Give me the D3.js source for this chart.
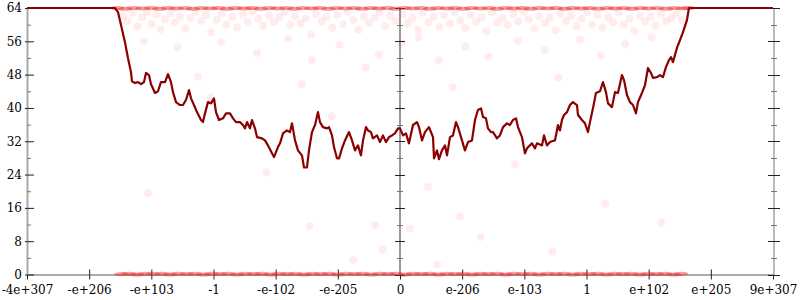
<!DOCTYPE html>
<html lang="en">
    <head>
        <meta charset="UTF-8">
        <title>Float bits</title>
        <style>
            body { margin: 0; padding: 0; background: #fff; }
        </style>
    </head>
    <body>
        <div id="chart"></div>
        <script src="https://d3js.org/d3.v7.min.js"></script>
        <script>
            // x positions are in tick units (0 = first label, 12 = last label)
            const xLabels = ['-4e+307', '-e+206', '-e+103', '-1', '-e-102', '-e-205', '0',
                'e-206', 'e-103', '1', 'e+102', 'e+205', '9e+307'];
            const yTicks = [0, 4, 8, 12, 16, 20, 24, 28, 32, 36, 40, 44, 48, 52, 56, 60, 64];

            const linePoints = [[0,64],[1.415,64],[1.464,63.0],[1.512,59.9],[1.576,55.8],[1.624,52.0],[1.673,48.6],[1.689,46.4],
                [1.737,46.0],[1.785,46.2],[1.834,45.7],[1.882,46.2],[1.914,48.4],[1.962,47.9],[1.995,45.7],[2.059,43.6],
                [2.107,44.0],[2.155,46.2],[2.220,46.2],[2.268,48.1],[2.316,46.2],[2.348,43.8],[2.397,41.4],[2.461,40.7],
                [2.509,40.7],[2.557,41.9],[2.606,44.3],[2.638,42.3],[2.686,40.7],[2.734,39.0],[2.799,37.1],[2.831,36.6],
                [2.863,38.7],[2.911,41.4],[2.960,41.1],[3.008,42.3],[3.040,39.0],[3.088,37.1],[3.153,37.5],[3.201,38.7],
                [3.265,38.7],[3.314,37.5],[3.362,36.6],[3.426,36.6],[3.474,35.9],[3.507,35.1],[3.539,36.6],[3.587,35.1],
                [3.619,37.1],[3.667,35.1],[3.700,33.0],[3.780,32.7],[3.828,32.2],[3.876,31.0],[3.941,29.1],[3.973,28.2],
                [4.037,30.6],[4.070,31.5],[4.118,33.9],[4.182,34.6],[4.230,34.2],[4.263,36.3],[4.311,32.2],[4.359,29.8],
                [4.423,28.6],[4.456,25.7],[4.504,25.7],[4.536,29.8],[4.584,34.2],[4.633,35.9],[4.681,39.0],[4.713,36.6],
                [4.761,35.4],[4.826,35.1],[4.858,35.4],[4.906,33.4],[4.938,30.6],[4.986,27.9],[5.019,27.9],[5.067,30.3],
                [5.115,32.2],[5.179,34.2],[5.228,32.2],[5.276,29.8],[5.324,31.0],[5.372,28.6],[5.405,32.2],[5.453,35.4],
                [5.485,34.6],[5.533,34.2],[5.565,32.7],[5.630,33.4],[5.678,31.8],[5.726,33.4],[5.774,31.8],[5.823,33.0],
                [5.871,33.4],[5.919,33.9],[5.968,35.1],[6.000,35.1],[6.048,33.4],[6.096,33.9],[6.144,31.5],[6.209,35.9],
                [6.273,36.6],[6.305,35.4],[6.354,32.2],[6.402,34.2],[6.466,35.4],[6.531,33.0],[6.547,27.9],[6.595,29.8],
                [6.627,27.7],[6.675,29.8],[6.724,31.0],[6.756,28.6],[6.804,33.0],[6.852,33.4],[6.901,36.6],[6.933,35.4],
                [6.997,32.2],[7.045,29.8],[7.094,31.8],[7.158,32.2],[7.206,37.1],[7.254,39.5],[7.303,39.9],[7.335,37.8],
                [7.383,37.5],[7.415,35.1],[7.464,34.2],[7.496,34.2],[7.560,32.7],[7.608,33.4],[7.657,35.4],[7.721,36.3],
                [7.769,35.9],[7.817,37.1],[7.866,37.5],[7.898,35.4],[7.962,33.0],[8.010,29.1],[8.043,30.3],[8.123,31.5],
                [8.171,30.3],[8.203,31.5],[8.284,31.0],[8.316,33.4],[8.364,31.0],[8.413,31.8],[8.445,32.0],[8.493,32.2],
                [8.541,35.9],[8.573,34.6],[8.605,37.1],[8.638,38.3],[8.686,39.0],[8.734,40.7],[8.782,41.4],[8.847,40.7],
                [8.863,38.3],[8.927,37.1],[8.975,36.3],[9.024,34.2],[9.056,36.6],[9.104,39.9],[9.152,43.6],[9.217,44.0],
                [9.265,46.2],[9.313,43.8],[9.346,41.1],[9.410,40.2],[9.458,43.8],[9.506,43.6],[9.571,47.9],[9.603,46.7],
                [9.651,43.1],[9.699,41.4],[9.748,40.7],[9.796,38.7],[9.828,41.4],[9.892,43.6],[9.941,45.5],[9.989,49.6],
                [10.037,48.4],[10.069,47.2],[10.134,47.4],[10.182,47.9],[10.230,47.4],[10.278,49.8],[10.327,51.5],[10.359,52.2],
                [10.391,51.0],[10.455,54.4],[10.504,56.3],[10.552,58.2],[10.616,61.1],[10.648,64],[12,64]];

            // dense samples sitting on the top and bottom edges
            const topBand = [[1.45,64],[1.58,63.8],[1.72,64],[1.86,63.9],[2.0,64],[2.13,63.8],[2.27,64],[2.4,63.9],
                [2.54,64],[2.67,63.8],[2.81,64],[2.95,63.9],[3.08,64],[3.22,63.8],[3.35,64],[3.49,63.9],[3.62,64],
                [3.76,63.8],[3.9,64],[4.03,63.9],[4.17,64],[4.3,63.8],[4.44,64],[4.58,63.9],[4.71,64],[4.85,63.8],
                [4.98,64],[5.12,63.9],[5.26,64],[5.39,63.8],[5.53,64],[5.66,63.9],[5.8,64],[5.93,63.8],[6.07,64],
                [6.2,63.9],[6.34,64],[6.48,63.8],[6.61,64],[6.75,63.9],[6.88,64],[7.02,63.8],[7.15,64],[7.29,63.9],
                [7.43,64],[7.56,63.8],[7.7,64],[7.83,63.9],[7.97,64],[8.1,63.8],[8.24,64],[8.38,63.9],[8.51,64],
                [8.65,63.8],[8.78,64],[8.92,63.9],[9.05,64],[9.19,63.8],[9.33,64],[9.46,63.9],[9.6,64],[9.73,63.8],
                [9.87,64],[10.0,63.9],[10.14,64],[10.28,63.8],[10.41,64],[10.55,63.9],[10.64,64]];
            const bottomBand = [[1.52,0.1],[1.64,0.2],[1.77,0.0],[1.9,0.2],[2.03,0.1],[2.17,0.2],[2.3,0.0],[2.43,0.2],
                [2.57,0.1],[2.7,0.2],[2.84,0.0],[2.97,0.2],[3.11,0.1],[3.24,0.2],[3.38,0.0],[3.51,0.2],[3.65,0.1],
                [3.78,0.2],[3.92,0.0],[4.05,0.2],[4.19,0.1],[4.32,0.2],[4.46,0.0],[4.59,0.2],[4.73,0.1],[4.86,0.2],
                [5.0,0.0],[5.13,0.2],[5.27,0.1],[5.4,0.2],[5.54,0.0],[5.67,0.2],[5.81,0.1],[5.94,0.2],[6.08,0.0],
                [6.21,0.2],[6.35,0.1],[6.48,0.2],[6.62,0.0],[6.75,0.2],[6.89,0.1],[7.02,0.2],[7.16,0.0],[7.29,0.2],
                [7.43,0.1],[7.56,0.2],[7.7,0.0],[7.83,0.2],[7.97,0.1],[8.1,0.2],[8.24,0.0],[8.37,0.2],[8.51,0.1],
                [8.64,0.2],[8.78,0.0],[8.91,0.2],[9.05,0.1],[9.18,0.2],[9.32,0.0],[9.45,0.2],[9.59,0.1],[9.72,0.2],
                [9.86,0.0],[9.99,0.2],[10.13,0.1],[10.26,0.2],[10.4,0.0],[10.52,0.2]];
            // fainter scattered samples
            const cloud = [[1.55,62.1],[1.62,60.8],[1.70,62.9],[1.78,59.6],[1.85,61.7],[1.93,63.0],[2.01,60.2],[2.08,62.4],
                [2.15,58.9],[2.22,61.3],[2.31,62.8],[2.38,60.5],[2.46,62.0],[2.55,59.1],[2.63,61.6],[2.71,63.1],[2.80,60.9],
                [2.88,62.3],[2.96,58.2],[3.05,61.1],[3.13,62.7],[3.21,60.0],[3.30,61.9],[3.38,59.4],[3.47,62.5],[3.55,60.7],
                [3.63,63.2],[3.72,61.4],[3.80,59.8],[3.89,62.2],[3.97,60.6],[4.06,61.8],[4.14,63.0],[4.23,59.9],[4.31,62.1],
                [4.40,60.3],[4.48,61.5],[4.57,57.6],[4.65,62.6],[4.74,60.8],[4.82,61.9],[4.91,59.3],[4.99,62.4],[5.08,60.1],
                [5.16,63.1],[5.25,61.2],[5.33,58.7],[5.42,62.0],[5.50,60.4],[5.59,61.7],[5.67,63.0],[5.76,59.7],[5.84,62.2],
                [5.93,60.9],[6.04,62.5],[6.12,60.3],[6.20,61.6],[6.29,58.8],[6.37,62.8],[6.46,60.6],[6.54,61.9],[6.63,59.5],
                [6.71,62.3],[6.80,60.2],[6.88,63.0],[6.97,61.0],[7.05,59.2],[7.14,62.4],[7.22,60.7],[7.31,61.8],[7.39,58.4],
                [7.48,62.9],[7.56,60.5],[7.65,61.6],[7.73,59.9],[7.82,62.6],[7.90,60.8],[7.99,63.1],[8.07,61.3],[8.16,59.0],
                [8.24,62.0],[8.33,60.4],[8.41,61.7],[8.50,58.6],[8.58,62.7],[8.67,60.9],[8.75,62.2],[8.84,59.6],[8.92,61.5],
                [9.01,63.0],[9.09,60.1],[9.18,62.3],[9.26,59.3],[9.35,61.8],[9.43,60.6],[9.52,62.9],[9.60,60.0],[9.69,61.4],
                [9.77,58.5],[9.86,62.1],[9.94,60.7],[10.03,61.9],[10.11,59.8],[10.20,62.6],[10.28,60.9],[10.37,61.6],
                [10.45,62.8],[10.54,61.1],
                [1.88,56.0],[2.42,54.6],[3.12,55.8],[3.70,53.2],[4.20,56.6],[4.58,51.5],[5.03,55.2],[5.45,49.8],[5.66,52.8],
                [6.02,55.6],[6.30,56.9],[6.62,51.4],[7.05,54.7],[7.42,52.3],[7.90,56.1],[8.33,53.9],[8.90,56.4],[9.23,52.6],
                [9.62,55.3],[10.05,57.0],[2.75,47.5],[4.42,45.6],[6.85,45.0],[8.55,47.3],
                [1.95,19.5],[2.95,42.5],[3.85,24.5],[4.54,11.6],[4.90,38.0],[5.60,11.8],[5.72,6.0],[6.16,11.0],[6.45,21.0],
                [6.96,14.0],[7.30,9.0],[7.85,26.5],[8.45,5.5],[9.30,17.0],[10.2,12.5],[5.25,3.5],[6.60,2.4]];

            const width = 800;
            const height = 300;
            const font = '"DejaVu Serif", "Liberation Serif", "Noto Serif", serif';

            const x = d3.scaleLinear().domain([0, 12]).range([27, 773]);
            const y = d3.scaleLinear().domain([0, 64]).range([274.5, 8]);

            const svg = d3.select('#chart')
                .append('svg')
                .attr('width', width)
                .attr('height', height);

            // bottom axis
            const xAxis = svg.append('g')
                .attr('transform', `translate(0, ${y(0)})`)
                .call(d3.axisBottom(x).tickValues(d3.range(13)).tickFormat(i => xLabels[i])
                    .tickSize(5).tickSizeOuter(0))
                .attr('font-family', font)
                .attr('font-size', 12);
            xAxis.select('.domain').attr('stroke', '#aaa').attr('stroke-width', 2);
            xAxis.selectAll('.tick line').attr('y1', -5).attr('y2', 5).attr('stroke', '#222');
            xAxis.selectAll('.tick text').attr('y', 11).attr('fill', '#000');

            // left axis with labels
            const yAxis = svg.append('g')
                .attr('transform', `translate(${x(0)}, 0)`)
                .call(d3.axisLeft(y).tickValues(yTicks).tickFormat(d => d % 8 ? '' : d)
                    .tickSize(0).tickPadding(5).tickSizeOuter(0))
                .attr('font-family', font)
                .attr('font-size', 12);
            yAxis.select('.domain').attr('stroke', '#aaa').attr('stroke-width', 2);
            yAxis.selectAll('.tick line')
                .attr('x1', d => d % 8 ? 0 : -2)
                .attr('x2', d => d % 8 ? 4 : 7)
                .attr('stroke', d => d % 8 ? '#777' : '#222');
            yAxis.selectAll('.tick text').attr('fill', '#000');

            // middle and right vertical axes, ticks only
            function sideAxis(xPos, major, minor, color) {
                const g = svg.append('g');
                g.append('line')
                    .attr('x1', xPos).attr('x2', xPos)
                    .attr('y1', y(64)).attr('y2', y(0))
                    .attr('stroke', color).attr('stroke-width', 2);
                g.selectAll('.t')
                    .data(yTicks)
                    .enter().append('line')
                    .attr('x1', d => xPos - (d % 8 ? minor : major))
                    .attr('x2', d => xPos + (d % 8 ? minor : major))
                    .attr('y1', d => Math.round(y(d)) + 0.5)
                    .attr('y2', d => Math.round(y(d)) + 0.5)
                    .attr('stroke', d => d % 8 ? '#777' : '#222');
            }
            sideAxis(x(6), 5, 3, '#999');
            sideAxis(x(12) + 1, 6, 3, '#bbb');

            // samples
            svg.append('g').selectAll('circle')
                .data(cloud)
                .enter().append('circle')
                .attr('cx', d => x(d[0]))
                .attr('cy', d => y(d[1]))
                .attr('r', 4)
                .attr('fill', 'red')
                .attr('fill-opacity', 0.07);

            svg.append('g').selectAll('ellipse')
                .data(topBand.concat(bottomBand))
                .enter().append('ellipse')
                .attr('cx', d => x(d[0]))
                .attr('cy', d => y(d[1]))
                .attr('rx', 7.5)
                .attr('ry', 2)
                .attr('fill', '#e22')
                .attr('fill-opacity', 0.45);

            // running line
            const line = d3.line()
                .x(d => x(d[0]))
                .y(d => y(d[1]));

            svg.append('path')
                .datum(linePoints)
                .attr('d', line)
                .attr('fill', 'none')
                .attr('stroke', '#8b0000')
                .attr('stroke-width', 2.2)
                .attr('stroke-linejoin', 'round');
        </script>
    </body>
</html>
